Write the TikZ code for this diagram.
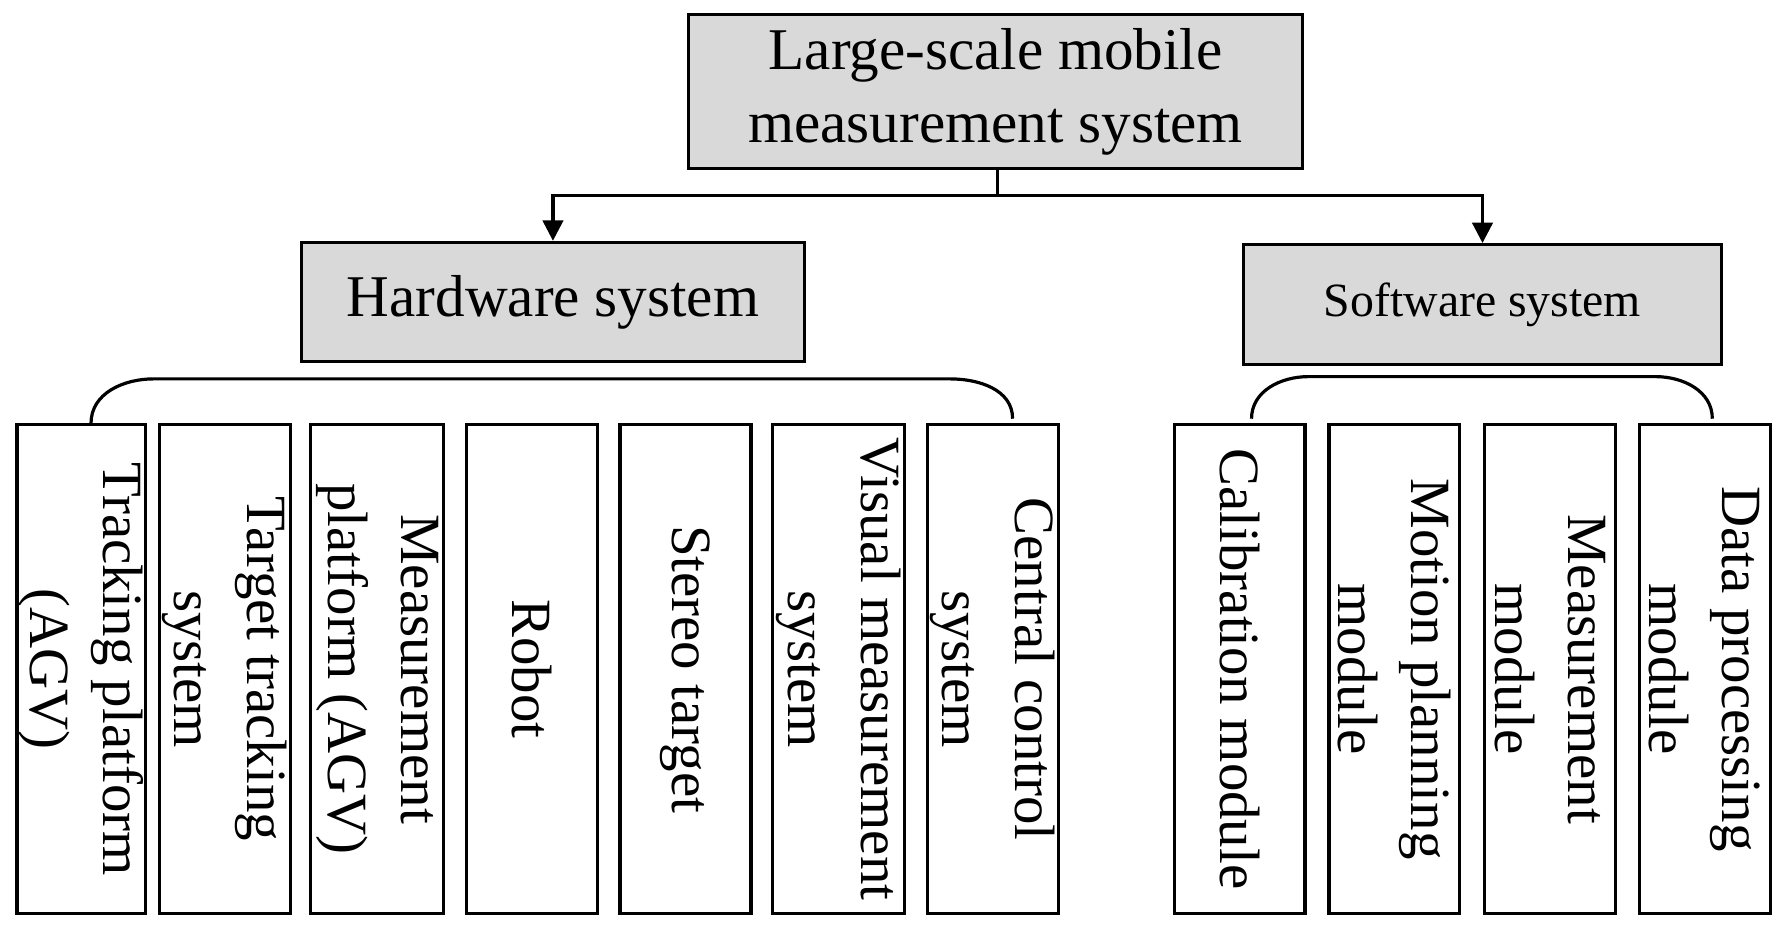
\documentclass[tikz,border=0pt]{standalone}
\usepackage{fontspec}
\setmainfont{Liberation Serif}
\usetikzlibrary{arrows.meta}
\begin{document}
\begin{tikzpicture}[x=0.5pt,y=-0.5pt,line width=1.4pt,
  gbox/.style={draw,fill=gray!30,inner sep=0pt},
  vbox/.style={draw,inner sep=0pt},
  vtxt/.style={rotate=-90,align=center,font=\fontsize{25}{32}\selectfont},
  arr/.style={-{Triangle[length=9pt,width=9pt]}}]
\useasboundingbox (0,0) rectangle (1568,816);
\node[gbox,minimum width=270pt,minimum height=67.5pt,align=center,font=\fontsize{26}{32}\selectfont] (top) at (875,80.5) {Large-scale mobile\\measurement system};
\node[gbox,minimum width=221pt,minimum height=52.5pt,font=\fontsize{26}{32}\selectfont] (hw) at (486,265.5) {Hardware system};
\node[gbox,minimum width=210pt,minimum height=52.5pt,font=\fontsize{21}{26}\selectfont] (sw) at (1303,267.5) {Software system};
\coordinate (j) at (877,172);
\draw (top.south -| j) -- (j);
\draw[arr] (j) -| (hw.north);
\draw[arr] (j) -| (sw.north);
\foreach \n/\l/\r/\t in {a/15/128/{Tracking platform\\(AGV)},b/140/255/{Target tracking\\system},c/273/390/{Measurement\\platform (AGV)},d/410/525/{Robot},e/545/660/{Stereo target},f/679/795/{Visual measurement\\system},g/815/930/{Central control\\system},h/1032/1147/{Calibration module},i/1168/1283/{Motion planning\\module},k/1305/1420/{Measurement\\module},m/1441/1556/{Data processing\\module}}{
  \node[vbox,minimum width={(\r-\l)*0.5pt},minimum height=215pt] (\n) at ({(\l+\r)/2},588) {};
  \node[vtxt] at (\n) {\t};
}
\draw (80,372) to[out=90,in=180] (135,333) -- (835,333) to[out=0,in=90] (890,368);
\draw (1100,368) to[out=90,in=180] (1150,331) -- (1455,331) to[out=0,in=90] (1505,368);
\end{tikzpicture}
\end{document}
